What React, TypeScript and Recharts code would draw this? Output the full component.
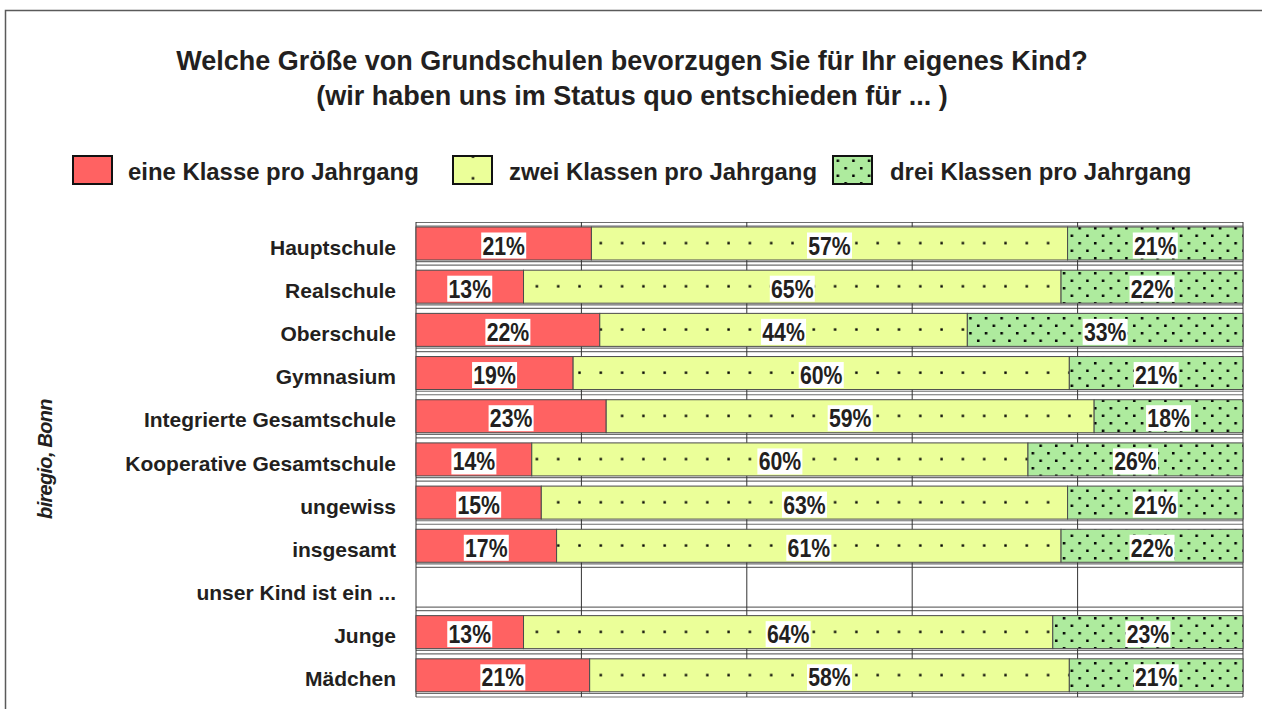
import React from 'react';
import { BarChart, Bar, XAxis, YAxis, CartesianGrid, LabelList } from 'recharts';

const categories = [
  'Hauptschule',
  'Realschule',
  'Oberschule',
  'Gymnasium',
  'Integrierte Gesamtschule',
  'Kooperative Gesamtschule',
  'ungewiss',
  'insgesamt',
  'unser Kind ist ein ...',
  'Junge',
  'Mädchen',
];
const eineKlasse: (number | null)[] = [21, 13, 22, 19, 23, 14, 15, 17, null, 13, 21];
const zweiKlassen: (number | null)[] = [57, 65, 44, 60, 59, 60, 63, 61, null, 64, 58];
const dreiKlassen: (number | null)[] = [21, 22, 33, 21, 18, 26, 21, 22, null, 23, 21];
const seriesNames = ['eine Klasse pro Jahrgang', 'zwei Klassen pro Jahrgang', 'drei Klassen pro Jahrgang'];
const titleLines = [
  'Welche Größe von Grundschulen bevorzugen Sie für Ihr eigenes Kind?',
  '(wir haben uns im Status quo entschieden für ... )',
];
const sourceNote = 'biregio, Bonn';

const data = categories.map((name, i) => ({
  name,
  eine: eineKlasse[i],
  zwei: zweiKlassen[i],
  drei: dreiKlassen[i],
}));

const FONT = '"Liberation Sans", Arial, Helvetica, sans-serif';
const TEXT = '#231f20';
const RED = '#ff6262';
const YELLOW = '#ebff99';
const GREEN = '#aeeb9e';

const BarShape = (props: any) => {
  const { x, y, width, height, fill } = props;
  if (!width || !isFinite(width) || width <= 0.5) return null;
  return <rect x={x} y={y} width={width} height={height} fill={fill} stroke="#4a4a4a" strokeWidth={1} />;
};

const makeLabel = (values: (number | null)[]) => (props: any) => {
  const { x, y, width, height, index } = props;
  const v = values[index];
  if (v == null || !width || width <= 0) return null;
  const text = `${v}%`;
  const cx = Number(x) + Number(width) / 2;
  const cy = Number(y) + Number(height) / 2 + 2;
  const w = 45;
  const h = 26;
  return (
    <g>
      <rect x={cx - w / 2} y={cy - h / 2} width={w} height={h} fill="#ffffff" />
      <text
        transform={`translate(${cx} ${cy + 9}) scale(0.85 1)`}
        x={0}
        y={0}
        textAnchor="middle"
        fontFamily={FONT}
        fontWeight="bold"
        fontSize={25}
        fill={TEXT}
      >
        {text}
      </text>
    </g>
  );
};

const CatTick = (props: any) => {
  const { x, y, payload } = props;
  return (
    <text
      x={x}
      y={y + 11}
      textAnchor="end"
      fontFamily={FONT}
      fontWeight="bold"
      fontSize={21}
      fill={TEXT}
    >
      {payload.value}
    </text>
  );
};

const hGen = (props: any) => {
  const { offset } = props;
  const n = categories.length;
  const band = offset.height / n;
  const out: number[] = [offset.top + 0.5, offset.top + 4];
  for (let i = 1; i <= n; i++) {
    const b = offset.top + band * i;
    out.push(b - 3.5, b);
  }
  return out;
};

const vGen = (props: any) => {
  const { offset } = props;
  const out: number[] = [];
  for (let i = 0; i <= 5; i++) out.push(offset.left + (offset.width * i) / 5);
  return out;
};

const Patterns = () => (
  <svg width={0} height={0} style={{ position: 'absolute' }}>
    <defs>
      <pattern id="yellowDots" patternUnits="userSpaceOnUse" x={0} y={0} width={21.3} height={21.6}>
        <rect x={0} y={0} width={21.3} height={21.6} fill={YELLOW} />
        <rect x={3.2} y={4.3} width={2.4} height={2.4} fill="#000" />
      </pattern>
      <pattern id="greenDots" patternUnits="userSpaceOnUse" x={0} y={0} width={15.6} height={15}>
        <rect x={0} y={0} width={15.6} height={15} fill={GREEN} />
        <rect x={2} y={2} width={2.5} height={2.5} fill="#000" />
        <rect x={9.8} y={9.5} width={2.5} height={2.5} fill="#000" />
      </pattern>
    </defs>
  </svg>
);

const legendItems = [
  { name: seriesNames[0], fill: RED, box: 73, text: 128 },
  { name: seriesNames[1], fill: 'url(#yellowDots)', box: 453, text: 509 },
  { name: seriesNames[2], fill: 'url(#greenDots)', box: 833, text: 890 },
];

const Overlay = () => (
  <svg width={1262} height={709} style={{ position: 'absolute', left: 0, top: 0 }}>
    <path d="M5.5 709 L5.5 10.5 L1262 10.5" fill="none" stroke="#5a5a5a" strokeWidth={1.5} />
    {titleLines.map((t, i) => (
      <text
        key={i}
        x={632}
        y={70 + i * 35}
        textAnchor="middle"
        fontFamily={FONT}
        fontWeight="bold"
        fontSize={27}
        fill={TEXT}
      >
        {t}
      </text>
    ))}
    {legendItems.map((it, i) => (
      <g key={i}>
        <rect x={it.box} y={156} width={39} height={28} fill={it.fill} stroke="#111" strokeWidth={2} />
        <text x={it.text} y={179.5} fontFamily={FONT} fontWeight="bold" fontSize={23.9} fill={TEXT}>
          {it.name}
        </text>
      </g>
    ))}
    <text
      transform="translate(52 459) rotate(-90)"
      textAnchor="middle"
      fontFamily={FONT}
      fontWeight="bold"
      fontStyle="italic"
      fontSize={20}
      letterSpacing={-0.7}
      fill={TEXT}
    >
      {sourceNote}
    </text>
  </svg>
);

export default function App() {
  return (
    <div style={{ position: 'absolute', left: 0, top: 0, width: 1262, height: 709, background: '#fff' }}>
      <Patterns />
      <Overlay />
      <div style={{ position: 'absolute', left: 0, top: 0 }}>
        <BarChart
          width={1262}
          height={709}
          data={data}
          layout="vertical"
          stackOffset="expand"
          barSize={33}
          margin={{ top: 222, right: 19, bottom: 12, left: 16 }}
        >
          <CartesianGrid
            horizontal={true}
            vertical={false}
            stroke="#6e6e6e"
            strokeWidth={1.2}
            horizontalCoordinatesGenerator={hGen}
            syncWithTicks={false}
          />
          <CartesianGrid
            horizontal={false}
            vertical={true}
            stroke="#333333"
            strokeWidth={1}
            verticalCoordinatesGenerator={vGen}
          />
          <XAxis type="number" domain={[0, 1]} hide />
          <YAxis
            type="category"
            dataKey="name"
            width={400}
            tickLine={false}
            axisLine={false}
            tickSize={0}
            tickMargin={20}
            tick={<CatTick />}
            interval={0}
          />
          <Bar dataKey="eine" stackId="s" fill={RED} shape={<BarShape />} isAnimationActive={false}>
            <LabelList dataKey="eine" content={makeLabel(eineKlasse)} />
          </Bar>
          <Bar dataKey="zwei" stackId="s" fill="url(#yellowDots)" shape={<BarShape />} isAnimationActive={false}>
            <LabelList dataKey="zwei" content={makeLabel(zweiKlassen)} />
          </Bar>
          <Bar dataKey="drei" stackId="s" fill="url(#greenDots)" shape={<BarShape />} isAnimationActive={false}>
            <LabelList dataKey="drei" content={makeLabel(dreiKlassen)} />
          </Bar>
        </BarChart>
      </div>
    </div>
  );
}
